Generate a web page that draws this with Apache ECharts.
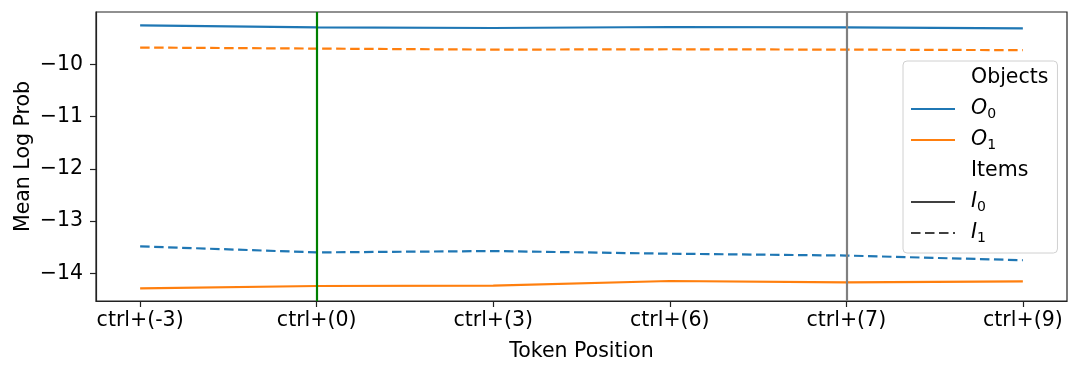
<!DOCTYPE html>
<html>
<head>
<meta charset="utf-8">
<script src="https://cdn.jsdelivr.net/npm/echarts@6/dist/echarts.min.js"></script>
<style>
  html, body { margin: 0; padding: 0; background: #fff; }
  #main { width: 1080px; height: 374px; }
</style>
</head>
<body>
<div id="main"></div>
<script>
// token positions on the x axis
const categories = ['ctrl+(-3)', 'ctrl+(0)', 'ctrl+(3)', 'ctrl+(6)', 'ctrl+(7)', 'ctrl+(9)'];
const yTicks = [-14, -13, -12, -11, -10];

// mean log prob per object / item
const o0_i0 = [-9.255, -9.293, -9.306, -9.287, -9.293, -9.312];
const o0_i1 = [-13.484, -13.600, -13.574, -13.625, -13.660, -13.750];
const o1_i0 = [-14.287, -14.243, -14.236, -14.147, -14.172, -14.153];
const o1_i1 = [-9.680, -9.700, -9.720, -9.713, -9.720, -9.730];

// vertical marker lines (category index)
const greenMark = 1;
const grayMark = 4;

const FONT = 'DejaVu Sans';
const FS = 20.5;
const BLUE = '#1f77b4';
const ORANGE = '#ff7f0e';
const DARK = '#404040';

const pts = arr => arr.map((v, i) => [i, v]);
const fmtNum = v => String(v).replace('-', '\u2212');

const chart = echarts.init(document.getElementById('main'));

const dataLine = (name, values, color, dashed) => ({
  name: name,
  type: 'line',
  data: pts(values),
  symbol: 'none',
  silent: true,
  lineStyle: { color: color, width: 2.2, type: dashed ? [9.5, 4.5] : 'solid' },
  z: 3
});

// empty series only used for the legend entries
const legendOnly = (name, color, dashed, hidden) => ({
  name: name,
  type: 'line',
  data: [],
  symbol: 'none',
  lineStyle: { color: color, width: 2.4, type: dashed ? [9.5, 4.5] : 'solid', opacity: hidden ? 0 : 1 },
  itemStyle: { color: color, opacity: 0 }
});

const legendText = {
  Objects: 'Objects',
  O0: '{it|O}{sub|0}',
  O1: '{it|O}{sub|1}',
  Items: 'Items',
  I0: '{it|I}{sub|0}',
  I1: '{it|I}{sub|1}'
};

var option = {
  animation: false,
  textStyle: { fontFamily: FONT },
  grid: {
    left: 96, right: 13, top: 12, bottom: 73,
    show: true, borderColor: '#222', borderWidth: 1.2, backgroundColor: 'transparent'
  },
  legend: {
    orient: 'vertical',
    left: 903, top: 61,
    padding: [5, 9, 8, 7],
    itemWidth: 44, itemHeight: 14, itemGap: 7,
    backgroundColor: 'rgba(255,255,255,0.8)',
    borderColor: '#d0d0d0', borderWidth: 1, borderRadius: 4,
    selectedMode: false,
    itemStyle: { opacity: 0 },
    data: ['Objects', 'O0', 'O1', 'Items', 'I0', 'I1'],
    formatter: name => legendText[name],
    textStyle: {
      fontFamily: FONT, fontSize: FS, color: '#000', lineHeight: 24,
      padding: [0, 0, 0, 11],
      rich: {
        it: { fontFamily: FONT, fontSize: FS, fontStyle: 'italic', color: '#000', lineHeight: 24 },
        sub: { fontFamily: FONT, fontSize: 14, color: '#000', verticalAlign: 'bottom', lineHeight: 18, padding: [8, 0, 0, 0] }
      }
    }
  },
  xAxis: {
    type: 'value',
    min: -0.25, max: categories.length - 0.75,
    name: 'Token Position',
    nameLocation: 'middle',
    nameGap: 40,
    nameTextStyle: { fontFamily: FONT, fontSize: FS, color: '#000' },
    axisLine: { show: true, onZero: false, lineStyle: { color: '#222', width: 1.2 } },
    axisTick: { show: true, length: 6, customValues: categories.map((c, i) => i), lineStyle: { color: '#222', width: 1.2 } },
    axisLabel: {
      customValues: categories.map((c, i) => i),
      formatter: v => categories[Math.round(v)],
      fontFamily: FONT, fontSize: FS, color: '#000', margin: 9
    },
    splitLine: { show: false }
  },
  yAxis: {
    type: 'value',
    min: -14.53, max: -9.0,
    name: 'Mean Log Prob',
    nameLocation: 'middle',
    nameGap: 62,
    nameMoveOverlap: false,
    nameTextStyle: { fontFamily: FONT, fontSize: FS, color: '#000' },
    axisLine: { show: true, onZero: false, lineStyle: { color: '#222', width: 1.2 } },
    axisTick: { show: true, length: 6, customValues: yTicks, lineStyle: { color: '#222', width: 1.2 } },
    axisLabel: {
      customValues: yTicks,
      formatter: v => fmtNum(v),
      fontFamily: FONT, fontSize: FS, color: '#000', margin: 13
    },
    splitLine: { show: false }
  },
  series: [
    dataLine('O0 I0', o0_i0, BLUE, false),
    dataLine('O0 I1', o0_i1, BLUE, true),
    dataLine('O1 I0', o1_i0, ORANGE, false),
    dataLine('O1 I1', o1_i1, ORANGE, true),
    {
      name: 'markers',
      type: 'line',
      data: [],
      silent: true,
      z: 4,
      markLine: {
        symbol: 'none',
        silent: true,
        animation: false,
        label: { show: false },
        data: [
          { xAxis: greenMark, lineStyle: { color: '#008000', width: 2.2, type: 'solid' } },
          { xAxis: grayMark, lineStyle: { color: '#808080', width: 2.2, type: 'solid' } }
        ]
      }
    },
    legendOnly('Objects', DARK, false, true),
    legendOnly('O0', BLUE, false, false),
    legendOnly('O1', ORANGE, false, false),
    legendOnly('Items', DARK, false, true),
    legendOnly('I0', DARK, false, false),
    legendOnly('I1', DARK, true, false)
  ]
};

chart.setOption(option);
</script>
</body>
</html>
